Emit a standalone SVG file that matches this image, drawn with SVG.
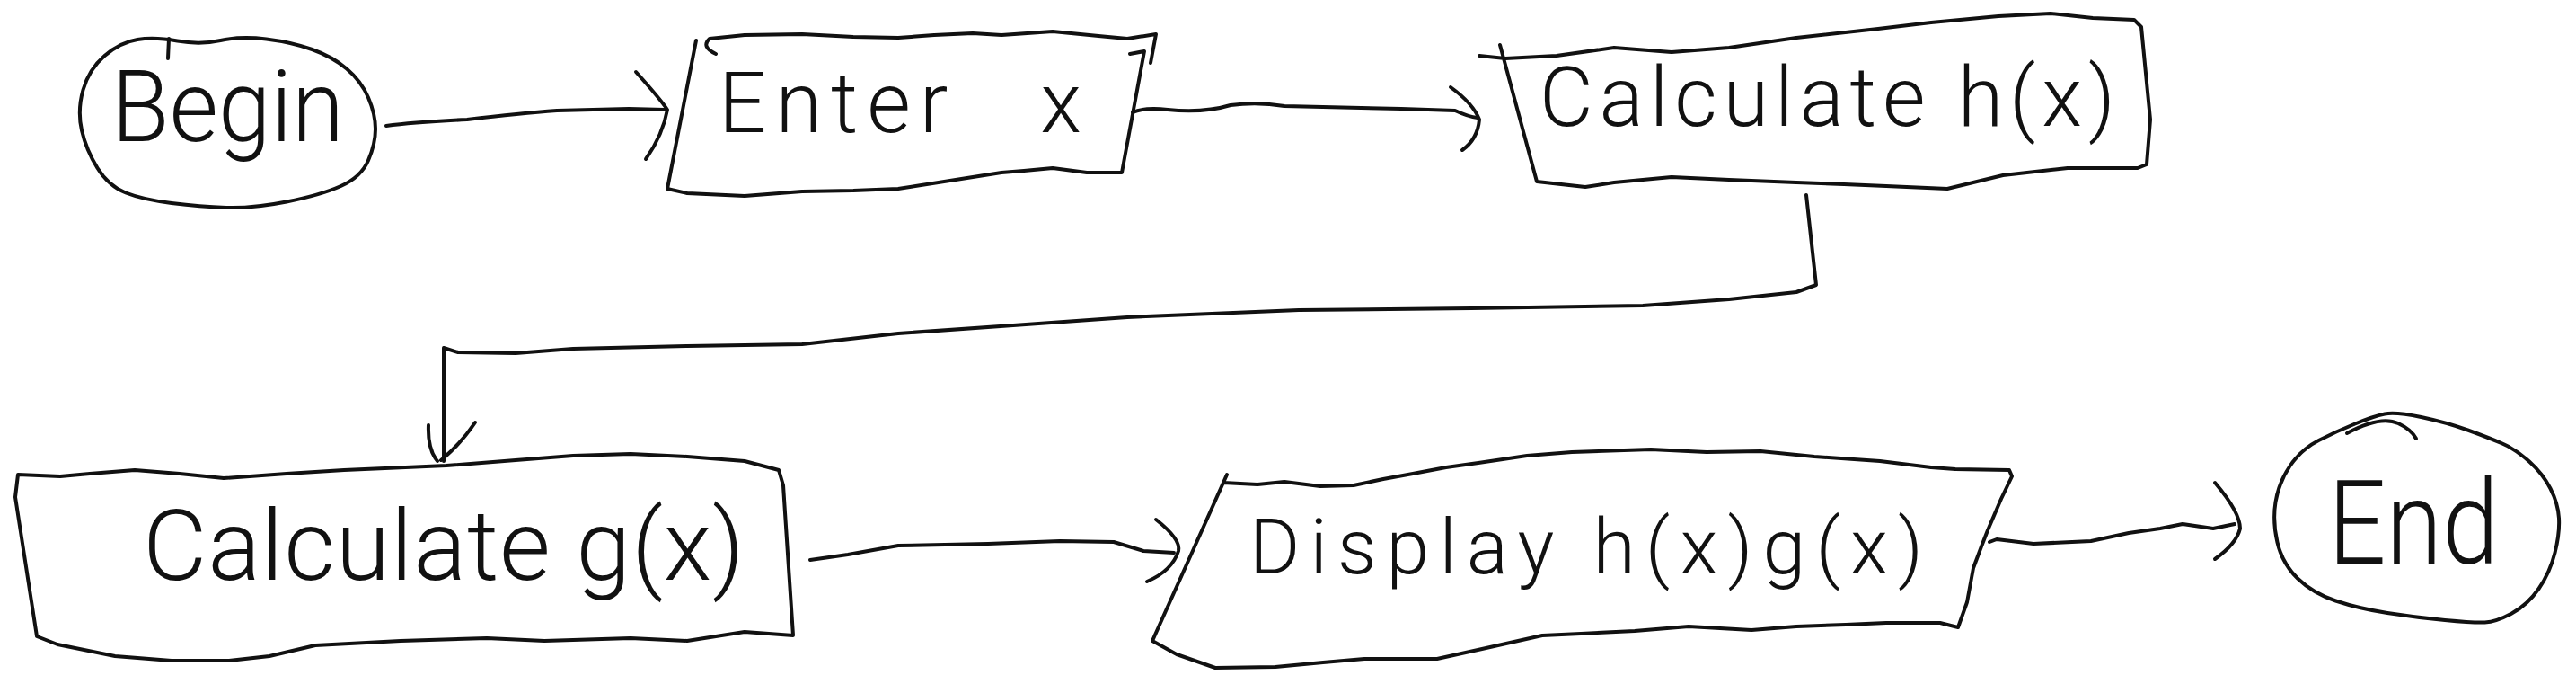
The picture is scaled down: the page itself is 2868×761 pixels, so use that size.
<svg xmlns="http://www.w3.org/2000/svg" width="2868" height="761" viewBox="0 0 2868 761">
<style>
.s{fill:none;stroke:#111;stroke-width:4;stroke-linecap:round;stroke-linejoin:round}
.t{font-family:Roboto,"Liberation Sans",sans-serif;font-weight:300;fill:#111}
</style>
<rect width="2868" height="761" fill="#fff"/>
<g id="node-begin">
<path class="s" d="M153,44 Q172,41 197.5,45.5 Q223,50 245.5,45 Q268,40 296.5,43.5 Q325,47 347.5,55 Q370,63 386,76.5 Q402,90 410,108.5 Q418,127 418,143.5 Q418,160 410,178.5 Q402,197 379.5,207 Q357,217 319,224.5 Q281,232 252,231 Q223,230 191,226 Q159,222 140,214.5 Q121,207 108.5,187 Q96,167 91,145 Q86,123 92.5,100 Q99,77 116.5,62 Q134,47 153,44 Z"/>
<path class="s" d="M188,43 L187,65"/>
<text class="t" x="124" y="157" font-size="112" textLength="259" lengthAdjust="spacingAndGlyphs">Begin</text>
</g>
<g id="node-enter">
<path class="s" d="M797,60 Q780,52 790,43 L829,39 L893,38 L950,41 L1000,42 L1040,39 L1083,37 L1115,39 L1172,35 L1223,40 L1255,43 L1287,38 L1281,70"/>
<path class="s" d="M1258,60 L1274,57 L1249,192 L1210,192 L1172,187 L1140,190 L1115,192 L1064,200 L1000,210 L950,212 L893,213 L829,218 L765,215 L743,210 L775,45"/>
<text class="t" x="800" y="147" font-size="94" textLength="404" lengthAdjust="spacing" word-spacing="60">Enter x</text>
</g>
<g id="node-calc-h">
<path class="s" d="M1647,62 L1676,65 L1733,62 L1797,53 L1861,58 L1925,53 L2000,42 L2091,32 L2150,25 L2225,18 L2283,15 L2330,20 L2376,22 L2384,30 L2394,133 L2390,183 L2380,187 L2302,187 L2230,195 L2168,210 L2100,207 L2053,205 L2000,203 L1925,200 L1861,197 L1797,203 L1765,208 L1711,202 L1670,50"/>
<text class="t" x="1714" y="140" font-size="92" textLength="641" lengthAdjust="spacing">Calculate h(x)</text>
</g>
<g id="node-calc-g">
<path class="s" d="M20,528 L67,530 L100,527 L150,523 L200,527 L249,532 L319,527 L383,523 L497,518 L574,512 L638,507 L702,505 L765,508 L829,513 L867,523 L872,540 L883,707 L829,703 L765,713 L702,710 L606,713 L542,710 L446,713 L351,718 L300,730 L255,735 L191,735 L128,730 L64,717 L41,708 L17,553 Z"/>
<text class="t" x="159" y="645" font-size="110" textLength="670" lengthAdjust="spacing">Calculate g(x)</text>
</g>
<g id="node-display">
<path class="s" d="M1366,528 L1283,713 L1310,728 L1353,743 L1420,742 L1473,737 L1519,733 L1600,733 L1650,722 L1717,707 L1760,705 L1820,702 L1880,697 L1950,701 L2000,697 L2055,695 L2100,693 L2160,693 L2180,698 L2190,670 L2197,632 L2206,608 L2213,590 L2228,555 L2240,530 L2237,523 L2177,522 L2150,520 L2093,513 L2020,508 L1960,502 L1900,503 L1838,500 L1750,503 L1700,507 L1646,515 L1610,520 L1573,527 L1540,533 L1507,540 L1470,541 L1430,536 L1400,539 L1362,537"/>
<text class="t" x="1391" y="638" font-size="86" textLength="750" lengthAdjust="spacing">Display h(x)g(x)</text>
</g>
<g id="node-end">
<path class="s" d="M2695.5,464 Q2724,470 2747.5,478.5 Q2771,487 2786,493.5 Q2801,500 2816,513.5 Q2831,527 2839.5,543.5 Q2848,560 2849,576.5 Q2850,593 2844.5,615 Q2839,637 2826.5,655 Q2814,673 2796.5,682.5 Q2779,692 2766.5,692.5 Q2754,693 2722,690 Q2690,687 2658,682 Q2626,677 2600.5,668.5 Q2575,660 2558,643.5 Q2541,627 2535.5,603.5 Q2530,580 2533.5,558.5 Q2537,537 2549.5,518.5 Q2562,500 2581.5,490 Q2601,480 2622,471.5 Q2643,463 2655,460.5 Q2667,458 2695.5,464 Z"/>
<path class="s" d="M2613,482 Q2650,462 2670,471 Q2685,478 2690,488"/>
<text class="t" x="2592" y="627" font-size="130" textLength="190" lengthAdjust="spacingAndGlyphs">End</text>
</g>
<g id="connectors">
<path class="s" d="M430,140 Q460,136 520,133 Q580,126 620,123 L700,121 L740,122"/>
<path class="s" d="M708,80 Q735,110 743,122 Q738,150 719,177"/>
<path class="s" d="M1261,125 Q1275,119 1300,122 Q1340,126 1370,117 Q1400,113 1430,118 L1560,121 L1620,123 Q1635,130 1645,131"/>
<path class="s" d="M1615,97 Q1640,115 1647,133 Q1645,155 1628,167"/>
<path class="s" d="M2011,217 L2022,317 L2000,325 L1925,333 L1829,340 L1638,343 L1446,345 L1255,353 L1128,362 L1000,371 L893,383 L765,385 L638,388 L574,393 L510,392 L494,387 L494,513"/>
<path class="s" d="M477,473 Q476,500 487,513 M529,470 Q512,495 491,512"/>
<path class="s" d="M902,623 L944,617 L1000,607 L1100,605 L1180,602 L1240,603 L1273,613 L1307,615"/>
<path class="s" d="M1287,578 Q1315,600 1312,613 Q1305,635 1277,647"/>
<path class="s" d="M2215,603 L2223,600 L2264,605 L2328,602 L2370,593 L2405,588 L2430,583 L2464,588 L2488,583"/>
<path class="s" d="M2466,537 Q2494,570 2494,588 Q2490,605 2466,622"/>
</g>
</svg>
